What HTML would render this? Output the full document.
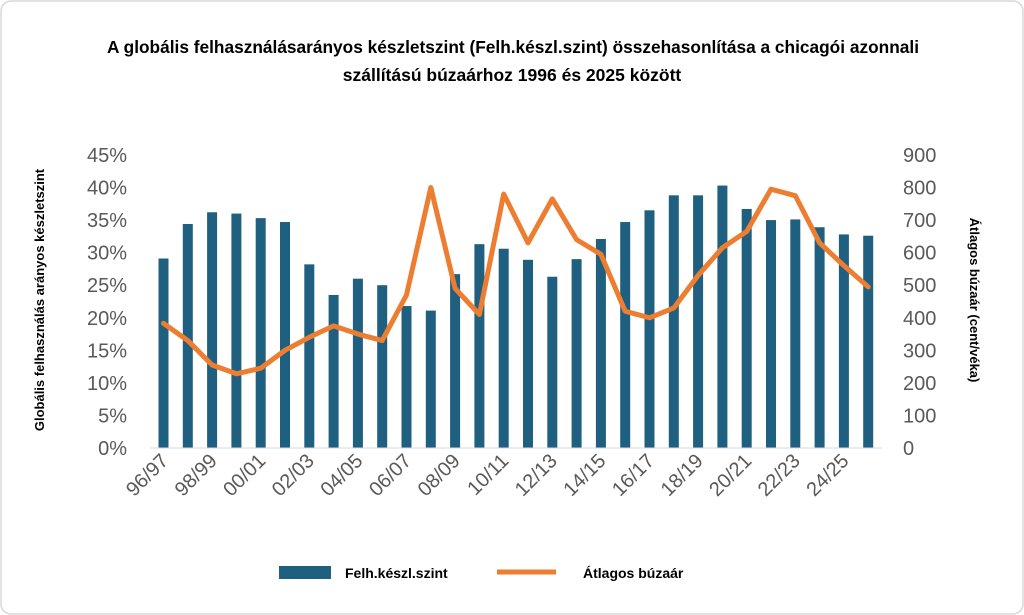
<!DOCTYPE html>
<html><head><meta charset="utf-8"><style>
html,body{margin:0;padding:0;background:#fff;}
svg{display:block;font-family:"Liberation Sans",sans-serif;}
</style></head><body>
<svg id="s" width="1024" height="615" viewBox="0 0 1024 615" xmlns="http://www.w3.org/2000/svg">
<rect x="1" y="1" width="1022" height="613" rx="10" fill="#fff" stroke="#d9d9d9" stroke-width="1.5"/>
<text x="513" y="53" text-anchor="middle" font-size="17.5" font-weight="bold" fill="#000" textLength="812" lengthAdjust="spacingAndGlyphs">A globális felhasználásarányos készletszint (Felh.készl.szint) összehasonlítása a chicagói azonnali</text>
<text x="512" y="81" text-anchor="middle" font-size="17.5" font-weight="bold" fill="#000">szállítású búzaárhoz 1996 és 2025 között</text>
<text transform="translate(44,300) rotate(-90)" text-anchor="middle" font-size="13" font-weight="bold" fill="#000">Globális felhasználás arányos készletszint</text>
<text transform="translate(970,300) rotate(90)" text-anchor="middle" font-size="13" font-weight="bold" fill="#000">Átlagos búzaár (cent/véka)</text>
<g id="g"></g>
<rect x="279" y="566" width="52" height="13" fill="#1f5f80"/>
<text x="345" y="578" font-size="14" font-weight="bold" fill="#000">Felh.készl.szint</text>
<line x1="497" y1="572" x2="556" y2="572" stroke="#ed7d31" stroke-width="5"/>
<text x="583" y="578" font-size="14" font-weight="bold" fill="#000">Átlagos búzaár</text>
</svg>
<script>
var g=document.getElementById('g'),h='';
var bars=[29.1,34.4,36.2,36.0,35.3,34.7,28.2,23.5,26.0,25.0,21.8,21.1,26.7,31.3,30.6,28.9,26.3,29.0,32.1,34.7,36.5,38.8,38.8,40.3,36.7,35.0,35.1,33.9,32.8,32.6];
var line=[383,330,255,228,245,300,340,375,350,330,470,800,490,410,780,630,765,640,595,420,400,430,530,615,665,795,775,630,560,495];
for(var i=0;i<=9;i++){var y=448-i*32.56;
h+='<text x="127" y="'+(y+7)+'" text-anchor="end" font-size="20" fill="#595959">'+(i*5)+'%</text>';
h+='<text x="903" y="'+(y+7)+'" font-size="20" fill="#595959">'+(i*100)+'</text>';}
var pts=[];
for(var i=0;i<30;i++){var x=163.5+i*24.3,v=bars[i];
h+='<rect x="'+(x-5)+'" y="'+(448-v*6.512)+'" width="10" height="'+(v*6.512)+'" fill="#1f5f80"/>';
pts.push(x+','+(448-line[i]*0.3256));
if(i%2==0){var a=96+i,b=a+1;var s=('0'+(a%100)).slice(-2)+'/'+('0'+(b%100)).slice(-2);
h+='<text transform="translate('+(x+6)+',462) rotate(-45)" text-anchor="end" font-size="20" fill="#595959">'+s+'</text>';}}
h+='<line x1="150" y1="448" x2="882" y2="448" stroke="#d9d9d9" stroke-width="1"/>';
h+='<polyline points="'+pts.join(' ')+'" fill="none" stroke="#ed7d31" stroke-width="5" stroke-linejoin="round" stroke-linecap="round"/>';
g.innerHTML=h;
</script>
</body></html>
